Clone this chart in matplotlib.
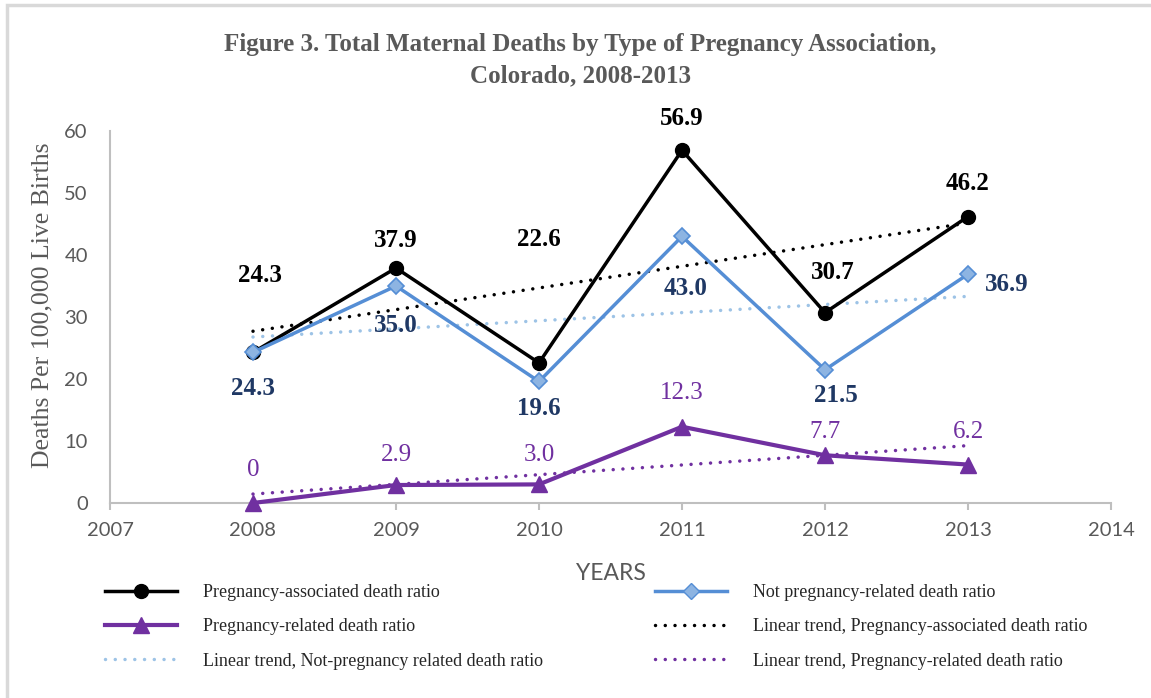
import matplotlib as mpl
mpl.use('Agg')
import matplotlib.pyplot as plt
from matplotlib.lines import Line2D
from matplotlib.patches import Rectangle
import numpy as np

## Data

years = [2008, 2009, 2010, 2011, 2012, 2013]
assoc = [24.3, 37.9, 22.6, 56.9, 30.7, 46.2]
not_related = [24.3, 35.0, 19.6, 43.0, 21.5, 36.9]
related = [0, 2.9, 3.0, 12.3, 7.7, 6.2]
assoc_labels = ['24.3', '37.9', '22.6', '56.9', '30.7', '46.2']
not_related_labels = ['24.3', '35.0', '19.6', '43.0', '21.5', '36.9']
related_labels = ['0', '2.9', '3.0', '12.3', '7.7', '6.2']

## Style

SERIF = 'Liberation Serif'
SANS = 'Lato'
GRAY = '#595959'
BLACK = '#000000'
BLUE = '#558ED5'
BLUE_FACE = '#8DB4E2'
BLUE_TREND = '#9DC3E6'
BLUE_TEXT = '#1F3864'
PURPLE = '#7030A0'

# label offsets in pixels (dx, dy)
assoc_off = [(7, 77), (0, 28), (0, 123), (0, 32), (8, 40), (0, 33)]
not_related_off = [(0, -36), (0, -39), (0, -27), (4, -52), (11, -26), (39, -10)]
related_off = [(0, 33), (0, 30), (0, 29), (0, 34), (0, 23), (0, 33)]

fig = plt.figure(figsize=(11.51, 6.98), dpi=100)
W, H = 1151, 698
ax = fig.add_axes([110 / W, 1 - 503 / H, 1001 / W, 372 / H])

# outer frame
fig.patches.append(Rectangle((7 / W, -0.1), 1.2, 1 - 5 / H + 0.1, transform=fig.transFigure,
                             fill=False, edgecolor='#D9D9D9', linewidth=2.5))

def trend(y):
    k, b = np.polyfit(years, y, 1)
    return [k * x + b for x in years]

dots = (0, (0.01, 2.8))
ax.plot(years, trend(assoc), color=BLACK, lw=2.5, ls=dots, dash_capstyle='round', zorder=2)
ax.plot(years, trend(not_related), color=BLUE_TREND, lw=2.5, ls=dots, dash_capstyle='round', zorder=2)
ax.plot(years, trend(related), color=PURPLE, lw=2.5, ls=dots, dash_capstyle='round', zorder=2)

ax.plot(years, assoc, color=BLACK, lw=2.5, marker='o', ms=10, zorder=3)
ax.plot(years, not_related, color=BLUE, lw=2.5, marker='D', ms=8, mfc=BLUE_FACE, mec=BLUE,
        mew=1.2, zorder=4)
ax.plot(years, related, color=PURPLE, lw=3, marker='^', ms=11, zorder=5, clip_on=False)

def put_labels(vals, labels, offs, color, weight):
    for x, v, t, (dx, dy) in zip(years, vals, labels, offs):
        ax.annotate(t, (x, v), xytext=(dx * 0.72, dy * 0.72), textcoords='offset points',
                    ha='center', va='center', fontsize=18, color=color,
                    fontfamily=SERIF, fontweight=weight)

put_labels(assoc, assoc_labels, assoc_off, BLACK, 'bold')
put_labels(not_related, not_related_labels, not_related_off, BLUE_TEXT, 'bold')
put_labels(related, related_labels, related_off, PURPLE, 'normal')

ax.set_xlim(2007, 2014)
ax.set_ylim(0, 60)
ax.set_xticks(range(2007, 2015))
ax.set_yticks(range(0, 61, 10))
for s in ['top', 'right']:
    ax.spines[s].set_visible(False)
for s in ['left', 'bottom']:
    ax.spines[s].set_color('#BFBFBF')
    ax.spines[s].set_linewidth(1.5)
ax.tick_params(axis='x', direction='out', length=5, width=1.5, color='#BFBFBF', pad=9,
               labelsize=14.5, labelcolor=GRAY)
ax.tick_params(axis='y', length=0, pad=16, labelsize=14.5, labelcolor=GRAY)
for lab in ax.get_xticklabels() + ax.get_yticklabels():
    lab.set_fontfamily(SANS)

ax.set_xlabel('YEARS', fontfamily=SANS, fontsize=16.5, color=GRAY, labelpad=17)
ax.set_ylabel('Deaths Per 100,000 Live Births', fontfamily=SERIF, fontsize=18.5, color=GRAY)
ax.yaxis.set_label_coords(-0.056, 0.532)

fig.text(580 / W, 1 - 45 / H, 'Figure 3. Total Maternal Deaths by Type of Pregnancy Association,',
         ha='center', va='center', fontfamily=SERIF, fontweight='bold', fontsize=18, color=GRAY)
fig.text(580 / W, 1 - 76 / H, 'Colorado, 2008-2013',
         ha='center', va='center', fontfamily=SERIF, fontweight='bold', fontsize=18, color=GRAY)

## Legend

h_assoc = Line2D([], [], color=BLACK, lw=2.5, marker='o', ms=10)
h_not = Line2D([], [], color=BLUE, lw=2.5, marker='D', ms=8, mfc=BLUE_FACE, mec=BLUE)
h_rel = Line2D([], [], color=PURPLE, lw=3, marker='^', ms=11)
h_t_assoc = Line2D([], [], color=BLACK, lw=2.5, ls=dots, dash_capstyle='round')
h_t_not = Line2D([], [], color=BLUE_TREND, lw=2.5, ls=dots, dash_capstyle='round')
h_t_rel = Line2D([], [], color=PURPLE, lw=2.5, ls=dots, dash_capstyle='round')

leg_kw = dict(frameon=False, borderpad=0, borderaxespad=0, handlelength=4.0, handletextpad=1.45,
              labelspacing=0.96, loc='upper left',
              prop={'family': SERIF, 'size': 13}, labelcolor='#262626')
fig.legend([h_assoc, h_rel, h_t_not],
           ['Pregnancy-associated death ratio', 'Pregnancy-related death ratio',
            'Linear trend, Not-pregnancy related death ratio'],
           bbox_to_anchor=(105 / W, 1 - 584 / H), **leg_kw)
fig.legend([h_not, h_t_assoc, h_t_rel],
           ['Not pregnancy-related death ratio', 'Linear trend, Pregnancy-associated death ratio',
            'Linear trend, Pregnancy-related death ratio'],
           bbox_to_anchor=(655 / W, 1 - 584 / H), **leg_kw)

plt.savefig('out.png', dpi=100)
